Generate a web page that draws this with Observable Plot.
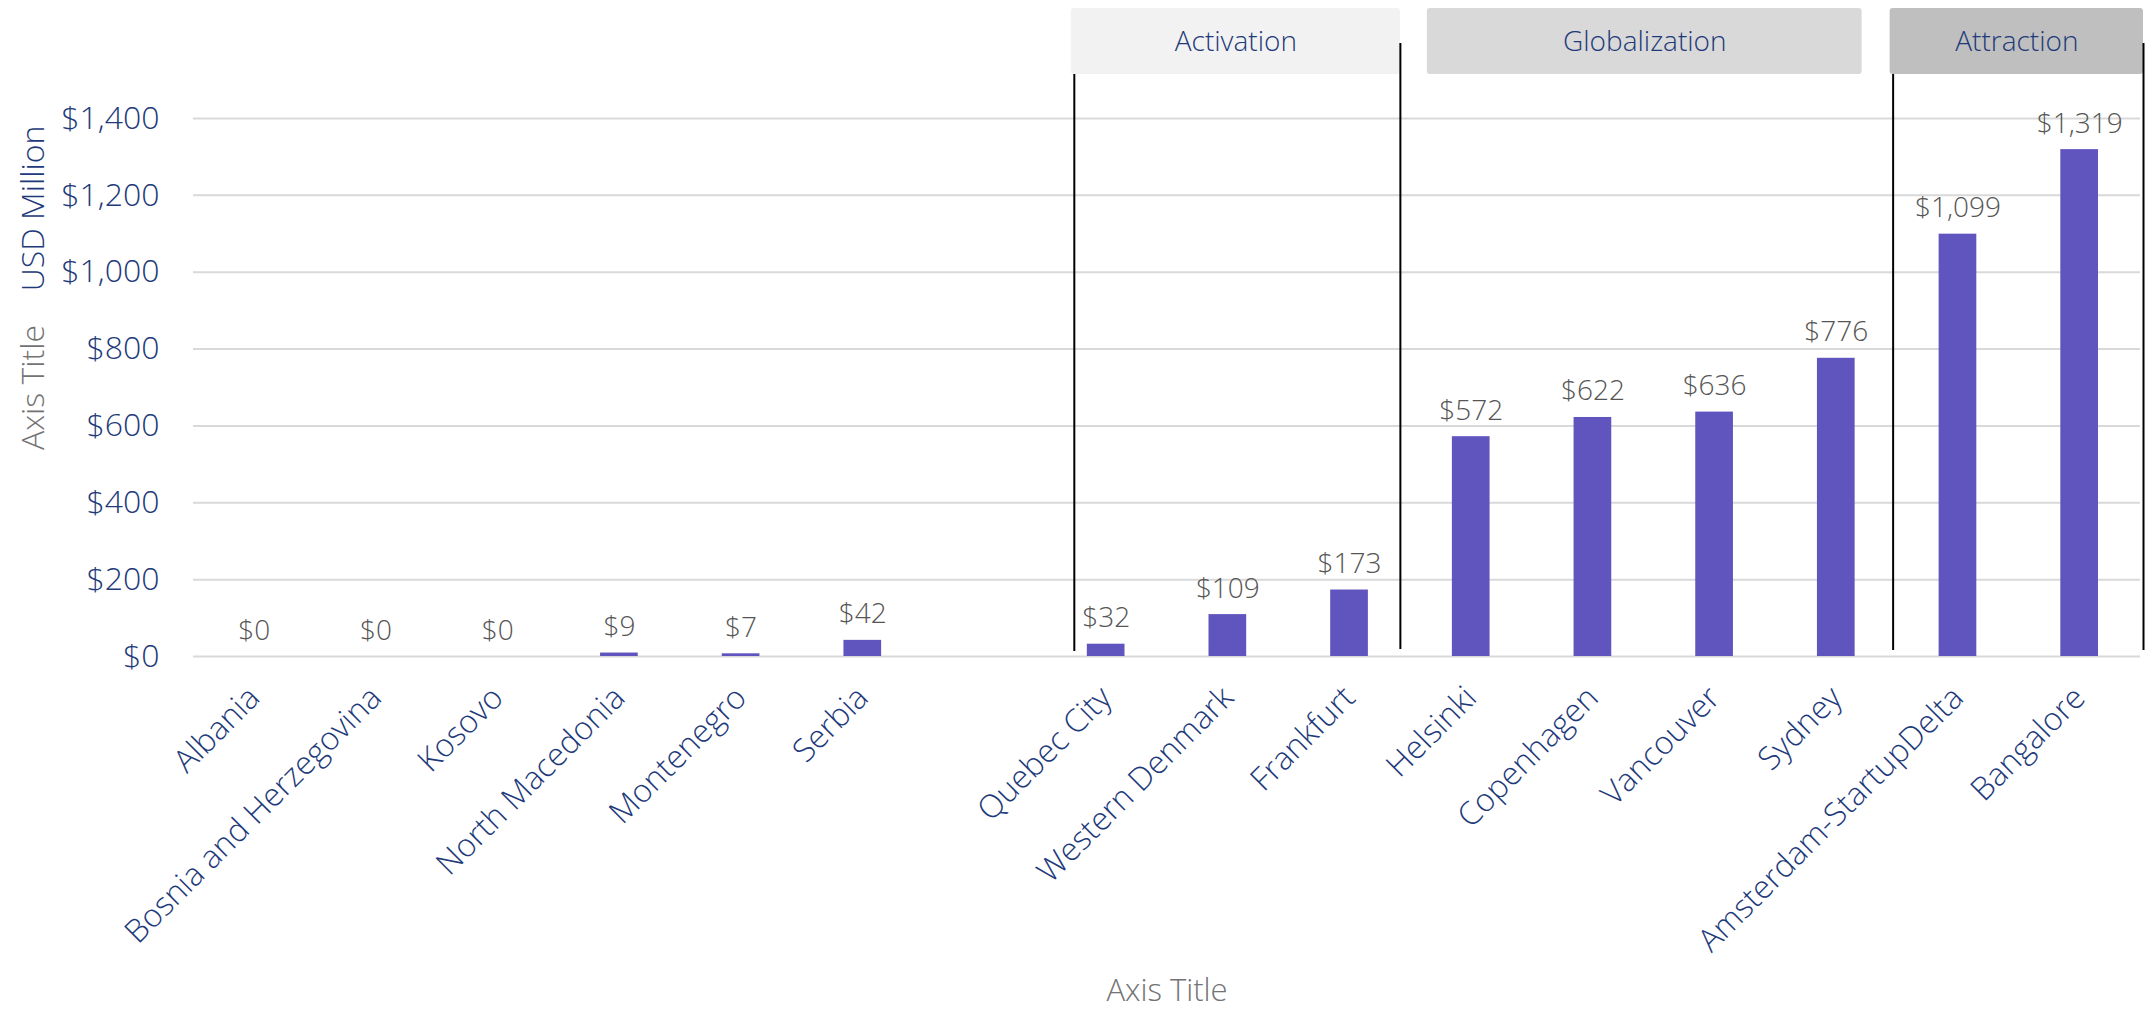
<!DOCTYPE html>
<html><head><meta charset="utf-8">
<script src="https://cdn.jsdelivr.net/npm/d3@7"></script>
<script src="https://cdn.jsdelivr.net/npm/@observablehq/plot@0.6"></script>
<style>body{margin:0;background:#fff;} #chart svg{font-family:"Open Sans",sans-serif;font-weight:300;}</style>
</head><body><div id="chart"></div>
<script>
// ---- data ----
const categories = ["Albania","Bosnia and Herzegovina","Kosovo","North Macedonia","Montenegro","Serbia","",
  "Quebec City","Western Denmark","Frankfurt","Helsinki","Copenhagen","Vancouver","Sydney","Amsterdam-StartupDelta","Bangalore"];
const values = [0,0,0,9,7,42,null,32,109,173,572,622,636,776,1099,1319];
const yTicks = [0,200,400,600,800,1000,1200,1400];
const groupNames = ["Activation","Globalization","Attraction"];
const groupFirst = ["Quebec City","Helsinki","Amsterdam-StartupDelta"];
const groupLast = ["Frankfurt","Sydney","Bangalore"];
const yAxisTitle = "Axis Title";
const yUnitTitle = "USD Million";
const xAxisTitle = "Axis Title";

// ---- styles ----
const NAVY = "#1e3a7a", VALUE_GRAY = "#555555", TITLE_GRAY = "#737373", BAR = "#6054be", GRID = "#d9d9d9";
const groupStyles = [
  {fill: "#f2f2f2", insetLeft: 26, insetRight: 10},
  {fill: "#d9d9d9", insetLeft: 17, insetRight: 35},
  {fill: "#bfbfbf", insetLeft: -7, insetRight: -3}
];
// dividers: group index, edge, pixel nudge, top extension
const dividers = [
  {g: 0, edge: "start", dx: 29, top: -44, bottom: 5},
  {g: 0, edge: "end", dx: -10, top: -75, bottom: 7},
  {g: 2, edge: "start", dx: -4, top: -44, bottom: 6},
  {g: 2, edge: "end", dx: 3, top: -75, bottom: 6}
];

const idx = name => categories.indexOf(name);
const data = categories.map((c, i) => ({cat: c, i, value: values[i]})).filter(d => d.cat !== "" && d.value != null);
const tickPos = data.map(d => d.i + 0.5);
const fmt = d3.format(",");

const marks = [
  Plot.gridY(yTicks, {stroke: GRID, strokeOpacity: 1, strokeWidth: 2}),
  Plot.rectY(data, {x1: d => d.i, x2: d => d.i + 1, y: "value", fill: BAR, insetLeft: 42, insetRight: 42}),
  Plot.text(data, {x: d => d.i + 0.5, y: "value", text: d => "$" + fmt(d.value), lineAnchor: "bottom", dy: -17, fill: VALUE_GRAY, fontSize: 28, fontWeight: 300}),
  Plot.axisY(yTicks, {tickFormat: d => "$" + fmt(d), tickSize: 0, tickPadding: 34, fontSize: 32, fontWeight: 300, color: NAVY, label: null}),
  Plot.axisX(tickPos, {tickFormat: d => categories[Math.floor(d)], tickRotate: -45, tickSize: 0, tickPadding: 36, fontSize: 32, fontWeight: 300, color: NAVY, label: null}),
  Plot.text([yAxisTitle], {frameAnchor: "left", textAnchor: "middle", lineAnchor: "middle", dx: -160, rotate: -90, fill: TITLE_GRAY, fontSize: 32, fontWeight: 300}),
  Plot.text([yUnitTitle], {frameAnchor: "top-left", textAnchor: "middle", lineAnchor: "middle", dx: -160, dy: 90, rotate: -90, fill: NAVY, fontSize: 32, fontWeight: 300}),
  Plot.text([xAxisTitle], {frameAnchor: "bottom", lineAnchor: "bottom", dy: 344, fill: TITLE_GRAY, fontSize: 31, fontWeight: 300})
];

groupNames.forEach((g, k) => {
  const s = groupStyles[k];
  const x1 = idx(groupFirst[k]), x2 = idx(groupLast[k]) + 1;
  marks.push(Plot.rect([g], {x1: () => x1, x2: () => x2, fill: s.fill, rx: 3, insetLeft: s.insetLeft, insetRight: s.insetRight, insetTop: -110, insetBottom: 582}));
  marks.push(Plot.text([g], {x: () => (x1 + x2) / 2, frameAnchor: "top", lineAnchor: "middle", dy: -76, dx: (s.insetLeft - s.insetRight) / 2, text: d => d, fill: NAVY, fontSize: 28, fontWeight: 300}));
});
dividers.forEach(dv => {
  const x = dv.edge === "start" ? idx(groupFirst[dv.g]) : idx(groupLast[dv.g]) + 1;
  marks.push(Plot.ruleX([x], {dx: dv.dx, stroke: "#000", strokeWidth: 2, insetTop: dv.top, insetBottom: dv.bottom}));
});

const chart = Plot.plot({
  width: 2147, height: 1011,
  marginTop: 118, marginBottom: 355, marginLeft: 193, marginRight: 7,
  x: {type: "linear", domain: [0, categories.length], axis: null},
  y: {domain: [0, 1400], axis: null},
  style: {fontFamily: "Open Sans, sans-serif", background: "#fff", overflow: "visible"},
  marks
});
document.getElementById("chart").append(chart);
</script></body></html>
